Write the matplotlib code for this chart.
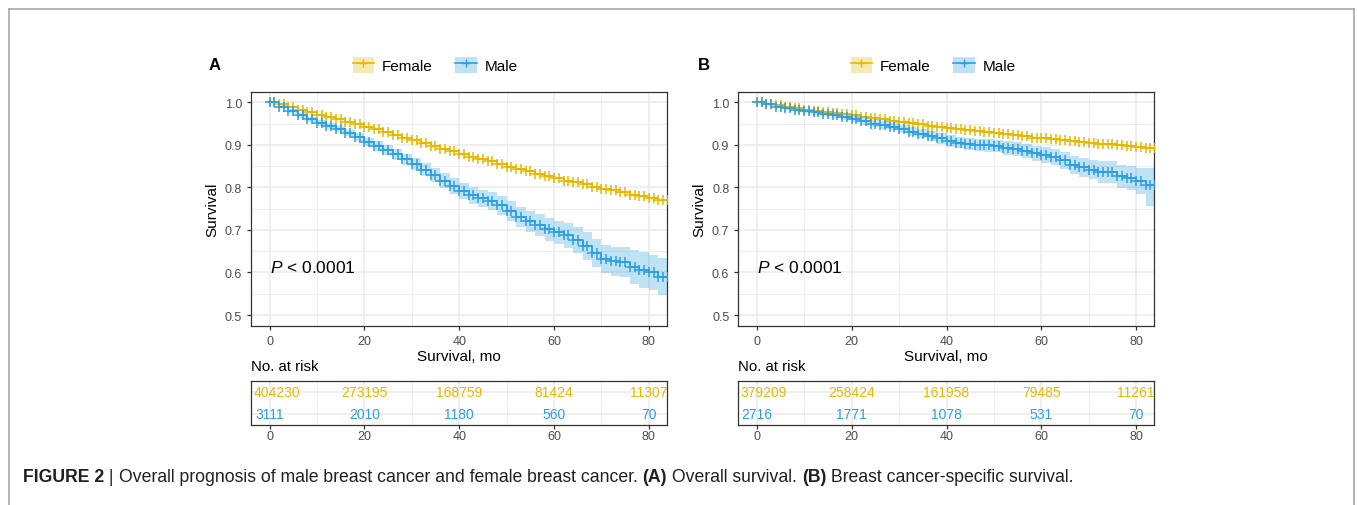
import numpy as np
import matplotlib.pyplot as plt
from matplotlib.patches import Patch
from matplotlib.lines import Line2D

plt.rcParams['font.family'] = ['Liberation Sans', 'DejaVu Sans']
plt.rcParams['mathtext.fontset'] = 'custom'
plt.rcParams['mathtext.it'] = 'Liberation Sans:italic'
plt.rcParams['mathtext.rm'] = 'Liberation Sans'
plt.rcParams['text.hinting'] = 'auto'

FEMALE = '#E7B800'
MALE = '#2E9FDF'

# time grid of the read-off survival values (months)
t2 = [0, 2, 4, 6, 8, 10, 12, 14, 16, 18, 20, 22, 24, 26, 28, 30, 32, 34, 36, 38, 40,
      42, 44, 46, 48, 50, 52, 54, 56, 58, 60, 62, 64, 66, 68, 70, 72, 74, 76, 78, 80, 82]

# ---- panel A: overall survival ----
a_f_s = [1.0, .995, .989, .983, .977, .971, .966, .960, .954, .949, .943, .937, .930, .924,
         .917, .911, .904, .898, .891, .885, .878, .872, .866, .861, .855, .849, .844, .838,
         .832, .827, .821, .816, .812, .807, .802, .797, .793, .788, .783, .779, .774, .770]
a_m_s = [1.0, .990, .980, .969, .960, .952, .945, .937, .928, .918, .907, .897, .888, .878,
         .866, .855, .842, .829, .816, .803, .792, .782, .774, .767, .758, .744, .731, .720,
         .711, .702, .694, .687, .676, .662, .646, .632, .626, .624, .612, .606, .600, .590]
a_m_lo = [1.0, .986, .975, .963, .954, .945, .938, .929, .920, .909, .897, .886, .876, .865,
          .853, .841, .827, .813, .799, .785, .773, .762, .754, .746, .736, .721, .707, .695,
          .685, .675, .666, .658, .645, .630, .613, .599, .591, .589, .572, .564, .558, .547]
a_m_hi = [1.0, .994, .985, .975, .966, .959, .952, .945, .936, .927, .917, .908, .900, .891,
          .879, .869, .857, .845, .833, .821, .811, .802, .794, .788, .780, .767, .755, .745,
          .737, .729, .722, .716, .707, .694, .679, .665, .661, .659, .652, .648, .642, .633]

# ---- panel B: breast cancer-specific survival ----
b_f_s = [1.0, .996, .993, .990, .986, .983, .980, .978, .975, .972, .969, .966, .963, .960,
         .957, .954, .951, .948, .945, .943, .940, .937, .935, .932, .930, .927, .925, .922,
         .920, .917, .915, .913, .911, .909, .907, .905, .903, .901, .899, .897, .895, .893]
b_m_s = [1.0, .995, .990, .986, .982, .979, .976, .973, .969, .965, .961, .955, .950, .946,
         .943, .937, .931, .926, .921, .915, .909, .905, .901, .900, .899, .897, .893, .890,
         .885, .880, .876, .871, .864, .853, .847, .842, .836, .836, .826, .822, .815, .805]
b_m_lo = [1.0, .993, .987, .982, .978, .974, .971, .967, .963, .958, .954, .947, .942, .937,
          .934, .927, .921, .915, .910, .903, .896, .892, .887, .886, .884, .882, .877, .874,
          .868, .862, .858, .852, .844, .832, .825, .819, .811, .811, .799, .793, .784, .757]
b_m_hi = [1.0, .997, .993, .990, .986, .984, .981, .979, .975, .972, .968, .963, .958, .955,
          .952, .947, .941, .937, .932, .927, .922, .918, .915, .914, .914, .912, .909, .906,
          .902, .898, .894, .890, .884, .874, .869, .865, .861, .861, .853, .851, .846, .846]

risk_times = [0, 20, 40, 60, 80]
a_risk_f = ['404230', '273195', '168759', '81424', '11307']
a_risk_m = ['3111', '2010', '1180', '560', '70']
b_risk_f = ['379209', '258424', '161958', '79485', '11261']
b_risk_m = ['2716', '1771', '1078', '531', '70']

censor_months = np.arange(0, 85)

XLIM = (-3.9, 83.8)
GRID = '#EBEBEB'
FRAME = '#333333'
TICKC = '#4D4D4D'


def step_curve(ax, t, s, color, lo=None, hi=None):
    t = np.asarray(t, float)
    s = np.asarray(s, float)
    te = np.append(t, XLIM[1] + 1)
    se = np.append(s, s[-1])
    if lo is not None:
        ax.fill_between(te, np.append(lo, lo[-1]), np.append(hi, hi[-1]), step='post',
                        color=color, alpha=0.3, lw=0, zorder=2)
    ax.step(te, se, where='post', color=color, lw=1.3, zorder=3)
    idx = np.searchsorted(t, censor_months, side='right') - 1
    ax.plot(censor_months, s[idx], ls='none', marker='+', ms=6.5, mew=1.1, color=color, zorder=4)


def style_axes(ax):
    for sp in ax.spines.values():
        sp.set_color(FRAME)
        sp.set_linewidth(0.9)
    ax.tick_params(colors=FRAME, labelcolor=TICKC, labelsize=9, length=3, width=0.9)
    ax.set_xticks([0, 20, 40, 60, 80])
    ax.set_xticks([10, 30, 50, 70], minor=True)
    ax.tick_params(which='minor', length=0)
    ax.grid(True, which='major', color=GRID, lw=1.1, zorder=0)
    ax.grid(True, which='minor', color=GRID, lw=0.6, zorder=0)
    ax.set_axisbelow(True)
    ax.set_xlim(*XLIM)


def panel(left, letterx, letter, f_s, m_s, m_lo, m_hi, risk_f, risk_m, legx):
    ax = fig.add_axes([left, 0.3544, 0.3065, 0.4625])
    style_axes(ax)
    ax.set_ylim(0.475, 1.025)
    ax.set_yticks([0.5, 0.6, 0.7, 0.8, 0.9, 1.0])
    ax.set_yticks([0.55, 0.65, 0.75, 0.85, 0.95], minor=True)
    ax.set_yticklabels(['0.5', '0.6', '0.7', '0.8', '0.9', '1.0'])
    step_curve(ax, t2, f_s, FEMALE)
    step_curve(ax, t2, m_s, MALE, m_lo, m_hi)
    ax.set_ylabel('Survival', fontsize=11, labelpad=4)
    ax.set_xlabel('Survival, mo', fontsize=11, labelpad=2)
    ax.text(0, 0.614, r'$\it{P}$ < 0.0001', fontsize=12.5, va='center', ha='left')

    tb = fig.add_axes([left, 0.1587, 0.3065, 0.0858])
    style_axes(tb)
    tb.set_ylim(0.5, 2.5)
    tb.set_yticks([1, 2])
    tb.set_yticklabels([])
    tb.tick_params(axis='y', length=0)
    tb.tick_params(axis='x', pad=1)
    for i, (x, vf, vm) in enumerate(zip(risk_times, risk_f, risk_m)):
        off = 7 if i == 0 else 0
        tb.annotate(vf, (x, 2), xytext=(off, 0), textcoords='offset pixels', ha='center',
                    va='center', color=FEMALE, fontsize=10, annotation_clip=False, clip_on=True)
        tb.annotate(vm, (x, 1), ha='center', va='center', color=MALE, fontsize=10, clip_on=True)
    tb.set_title('No. at risk', loc='left', fontsize=10.8, pad=8)

    fig.text(letterx, 0.8696, letter, fontsize=12, fontweight='bold', va='center', ha='center')
    handles = [(Patch(facecolor=FEMALE, alpha=0.3, lw=0),
                Line2D([], [], color=FEMALE, marker='+', ms=6, lw=1.2)),
               (Patch(facecolor=MALE, alpha=0.3, lw=0),
                Line2D([], [], color=MALE, marker='+', ms=6, lw=1.2))]
    fig.legend(handles, ['Female', 'Male'], loc='center', bbox_to_anchor=(legx, 0.8696),
               ncol=2, frameon=False, fontsize=11, handlelength=1.4, handleheight=1.3,
               handletextpad=0.5, columnspacing=1.5)


fig = plt.figure(figsize=(13.57, 5.06), dpi=100)

panel(0.18497, 0.1584, 'A', a_f_s, a_m_s, a_m_lo, a_m_hi, a_risk_f, a_risk_m, 0.3206)
panel(0.54407, 0.5185, 'B', b_f_s, b_m_s, b_m_lo, b_m_hi, b_risk_f, b_risk_m, 0.6876)

# figure frame (open at bottom)
W, H = 1357, 506
fr = dict(color='#A8A8A8', lw=1.2, transform=fig.transFigure)
fig.add_artist(Line2D([9 / W, 1354 / W], [1 - 10 / H, 1 - 10 / H], **fr))
fig.add_artist(Line2D([9 / W, 9 / W], [0, 1 - 10 / H], **fr))
fig.add_artist(Line2D([1354 / W, 1354 / W], [0, 1 - 10 / H], **fr))

# caption built piece by piece
pieces = [('FIGURE 2', 'bold'), (' | ', 'normal'),
          ('Overall prognosis of male breast cancer and female breast cancer. ', 'normal'),
          ('(A)', 'bold'), (' Overall survival. ', 'normal'), ('(B)', 'bold'),
          (' Breast cancer-specific survival.', 'normal')]
fig.canvas.draw()
r = fig.canvas.get_renderer()
x = 23 / W
for txt, wt in pieces:
    t = fig.text(x, 1 - 478 / H, txt, fontsize=12.7, fontweight=wt, color='#231F20',
                 va='center', ha='left')
    bb = t.get_window_extent(renderer=r)
    x += bb.width / W

fig.savefig('out.png', dpi=100)
